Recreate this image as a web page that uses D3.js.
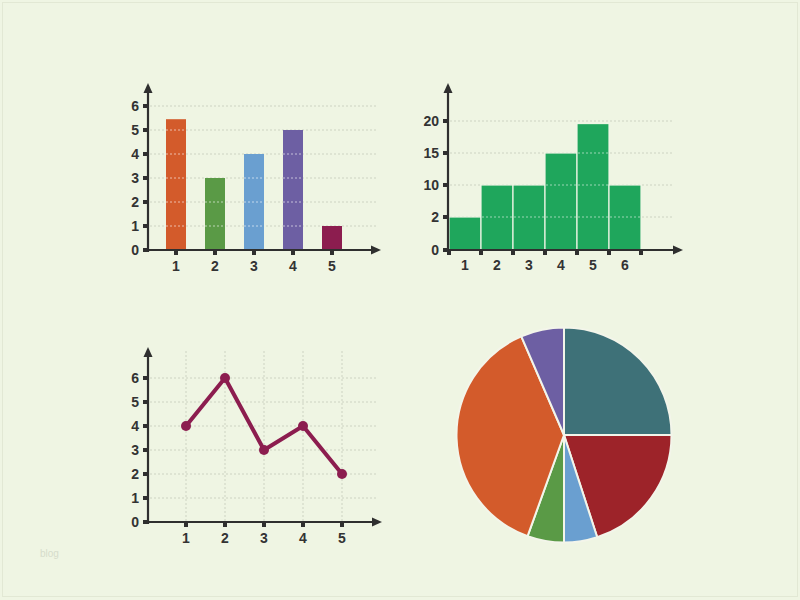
<!DOCTYPE html>
<html><head><meta charset="utf-8">
<script src="https://cdn.jsdelivr.net/npm/d3@7"></script>
<style>html,body{margin:0;padding:0;background:#eff5e3;}svg{display:block;}</style>
</head><body>
<script>
// ---- data ----
const barCats = [1, 2, 3, 4, 5];
const barValues = [5.45, 3, 4, 5, 1];
const barColors = ["#d35b2b", "#5a9a46", "#6a9fd0", "#6d5fa3", "#8c1d4f"];
const barYTicks = [0, 1, 2, 3, 4, 5, 6];

const histCats = [1, 2, 3, 4, 5, 6];
const histValues = [2, 10, 10, 15, 19.6, 10];
const histYTicks = [0, 2, 10, 15, 20];

const lineCats = [1, 2, 3, 4, 5];
const lineValues = [4, 6, 3, 4, 2];
const lineYTicks = [0, 1, 2, 3, 4, 5, 6];

const pieValues = [25, 20, 5, 5.5, 38, 6.5];
const pieColors = ["#3e7178", "#9d2329", "#6a9fd0", "#5a9a46", "#d35b2b", "#6d5fa3"];

// ---- setup ----
const W = 800, H = 600;
const svg = d3.select("body").append("svg").attr("width", W).attr("height", H);
svg.append("rect").attr("width", W).attr("height", H).attr("fill", "#eff5e3");
svg.append("rect").attr("x", 2.5).attr("y", 2.5).attr("width", W - 5).attr("height", H - 6)
  .attr("fill", "none").attr("stroke", "#e2e8d4").attr("stroke-width", 1);

const AX = "#2f2f2f";
const FONT = "'Liberation Sans', Arial, sans-serif";
const gridCol = "#cdd3c2";

function arrowAxes(g, x0, y0, xEnd, yTop) {
  g.append("line").attr("x1", x0 - 2).attr("y1", y0).attr("x2", xEnd - 6).attr("y2", y0)
    .attr("stroke", AX).attr("stroke-width", 2.2);
  g.append("line").attr("x1", x0).attr("y1", y0 + 2).attr("x2", x0).attr("y2", yTop + 6)
    .attr("stroke", AX).attr("stroke-width", 2.2);
  g.append("path").attr("d", `M${xEnd},${y0} L${xEnd - 10},${y0 - 4.5} L${xEnd - 10},${y0 + 4.5} Z`).attr("fill", AX);
  g.append("path").attr("d", `M${x0},${yTop} L${x0 - 4.5},${yTop + 10} L${x0 + 4.5},${yTop + 10} Z`).attr("fill", AX);
}
function yLabels(g, y, ticks, x0, labels) {
  g.selectAll(null).data(ticks).join("rect")
    .attr("x", x0 - 5).attr("y", d => y(d) - 2).attr("width", 4).attr("height", 4).attr("fill", AX);
  g.selectAll(null).data(ticks).join("text")
    .attr("x", x0 - 9).attr("y", d => y(d) + 5).attr("text-anchor", "end")
    .attr("font-family", FONT).attr("font-weight", "bold").attr("font-size", 14).attr("fill", "#333")
    .text((d, i) => labels ? labels[i] : d);
}
function xTickMarks(g, xs, y0) {
  g.selectAll(null).data(xs).join("rect")
    .attr("x", d => d - 2).attr("y", y0 + 1).attr("width", 4).attr("height", 4).attr("fill", AX);
}
function xLabels(g, items, xf, y) {
  g.selectAll(null).data(items).join("text")
    .attr("x", xf).attr("y", y).attr("text-anchor", "middle")
    .attr("font-family", FONT).attr("font-weight", "bold").attr("font-size", 14).attr("fill", "#333")
    .text(d => d);
}

// ---- chart 1: bar chart ----
{
  const g = svg.append("g");
  const x0 = 148, y0 = 250;
  const y = d3.scaleLinear().domain([0, 6]).range([250, 106]);
  const x = d3.scaleLinear().domain([1, 5]).range([176, 332]);
  const bw = 20;
  g.selectAll(null).data(barYTicks.filter(d => d > 0)).join("line")
    .attr("x1", x0 + 2).attr("x2", 378).attr("y1", d => y(d)).attr("y2", d => y(d))
    .attr("stroke", gridCol).attr("stroke-width", 1).attr("stroke-dasharray", "2,2");
  g.selectAll(null).data(barCats).join("rect")
    .attr("x", d => x(d) - bw / 2).attr("width", bw)
    .attr("y", (d, i) => y(barValues[i])).attr("height", (d, i) => y0 - y(barValues[i]))
    .attr("fill", (d, i) => barColors[i]);
  const segs = [];
  barCats.forEach((c, i) => barYTicks.forEach(t => { if (t > 0 && t < barValues[i]) segs.push({ c, t }); }));
  g.selectAll(null).data(segs).join("line")
    .attr("x1", d => x(d.c) - bw / 2).attr("x2", d => x(d.c) + bw / 2)
    .attr("y1", d => y(d.t)).attr("y2", d => y(d.t))
    .attr("stroke", "#ffffff").attr("stroke-opacity", 0.6).attr("stroke-dasharray", "2,2");
  arrowAxes(g, x0, y0, 381, 83);
  yLabels(g, y, barYTicks, x0);
  xTickMarks(g, barCats.map(x), y0);
  xLabels(g, barCats, d => x(d), 271);
}

// ---- chart 2: histogram ----
{
  const g = svg.append("g");
  const x0 = 448, y0 = 250;
  const y = d3.scaleLinear().domain(histYTicks).range([250, 217, 185, 153, 121]);
  const x = d3.scaleLinear().domain([0, 6]).range([449, 641]);
  g.selectAll(null).data(histYTicks.filter(d => d > 0)).join("line")
    .attr("x1", x0 + 2).attr("x2", 672).attr("y1", d => y(d)).attr("y2", d => y(d))
    .attr("stroke", gridCol).attr("stroke-width", 1).attr("stroke-dasharray", "2,2");
  g.selectAll(null).data(histCats).join("rect")
    .attr("x", (d, i) => x(i)).attr("width", (d, i) => x(i + 1) - x(i))
    .attr("y", (d, i) => y(histValues[i])).attr("height", (d, i) => y0 - y(histValues[i]))
    .attr("fill", "#1fa65c").attr("stroke", "#eef6e4").attr("stroke-width", 1.2);
  const segs = [];
  histCats.forEach((c, i) => histYTicks.forEach(t => { if (t > 0 && t < histValues[i]) segs.push({ i, t }); }));
  g.selectAll(null).data(segs).join("line")
    .attr("x1", d => x(d.i) + 1).attr("x2", d => x(d.i + 1) - 1)
    .attr("y1", d => y(d.t)).attr("y2", d => y(d.t))
    .attr("stroke", "#ffffff").attr("stroke-opacity", 0.55).attr("stroke-dasharray", "2,2");
  arrowAxes(g, x0, y0, 683, 83);
  yLabels(g, y, histYTicks, x0);
  xTickMarks(g, d3.range(0, 7).map(x), y0);
  xLabels(g, histCats, (d, i) => x(i + 0.5), 270);
}

// ---- chart 3: line chart ----
{
  const g = svg.append("g");
  const x0 = 148, y0 = 522;
  const y = d3.scaleLinear().domain([0, 6]).range([522, 378]);
  const x = d3.scaleLinear().domain([1, 5]).range([186, 342]);
  g.selectAll(null).data(lineYTicks.filter(d => d > 0)).join("line")
    .attr("x1", x0 + 2).attr("x2", 378).attr("y1", d => y(d)).attr("y2", d => y(d))
    .attr("stroke", gridCol).attr("stroke-width", 1).attr("stroke-dasharray", "2,2");
  g.selectAll(null).data(lineCats).join("line")
    .attr("x1", d => x(d)).attr("x2", d => x(d)).attr("y1", y0 - 1).attr("y2", 351)
    .attr("stroke", gridCol).attr("stroke-width", 1).attr("stroke-dasharray", "2,2");
  arrowAxes(g, x0, y0, 382, 347);
  yLabels(g, y, lineYTicks, x0);
  xTickMarks(g, lineCats.map(x), y0);
  xLabels(g, lineCats, d => x(d), 543);
  const line = d3.line().x((d, i) => x(lineCats[i])).y(d => y(d));
  g.append("path").datum(lineValues).attr("d", line).attr("fill", "none")
    .attr("stroke", "#8c1d4f").attr("stroke-width", 4).attr("stroke-linejoin", "round");
  g.selectAll(null).data(lineValues).join("circle")
    .attr("cx", (d, i) => x(lineCats[i])).attr("cy", d => y(d)).attr("r", 5).attr("fill", "#8c1d4f");
}

// ---- chart 4: pie ----
{
  const g = svg.append("g").attr("transform", "translate(564,435)");
  const pie = d3.pie().sort(null).startAngle(0).endAngle(2 * Math.PI);
  const arc = d3.arc().innerRadius(0).outerRadius(107.5);
  g.selectAll(null).data(pie(pieValues)).join("path")
    .attr("d", arc).attr("fill", (d, i) => pieColors[i])
    .attr("stroke", "#f3f5ea").attr("stroke-width", 2).attr("stroke-linejoin", "round");
}

// watermark
svg.append("text").attr("x", 40).attr("y", 557).attr("font-family", FONT).attr("font-size", 10)
  .attr("fill", "#d6dccb").text("blog");
</script>
</body></html>
